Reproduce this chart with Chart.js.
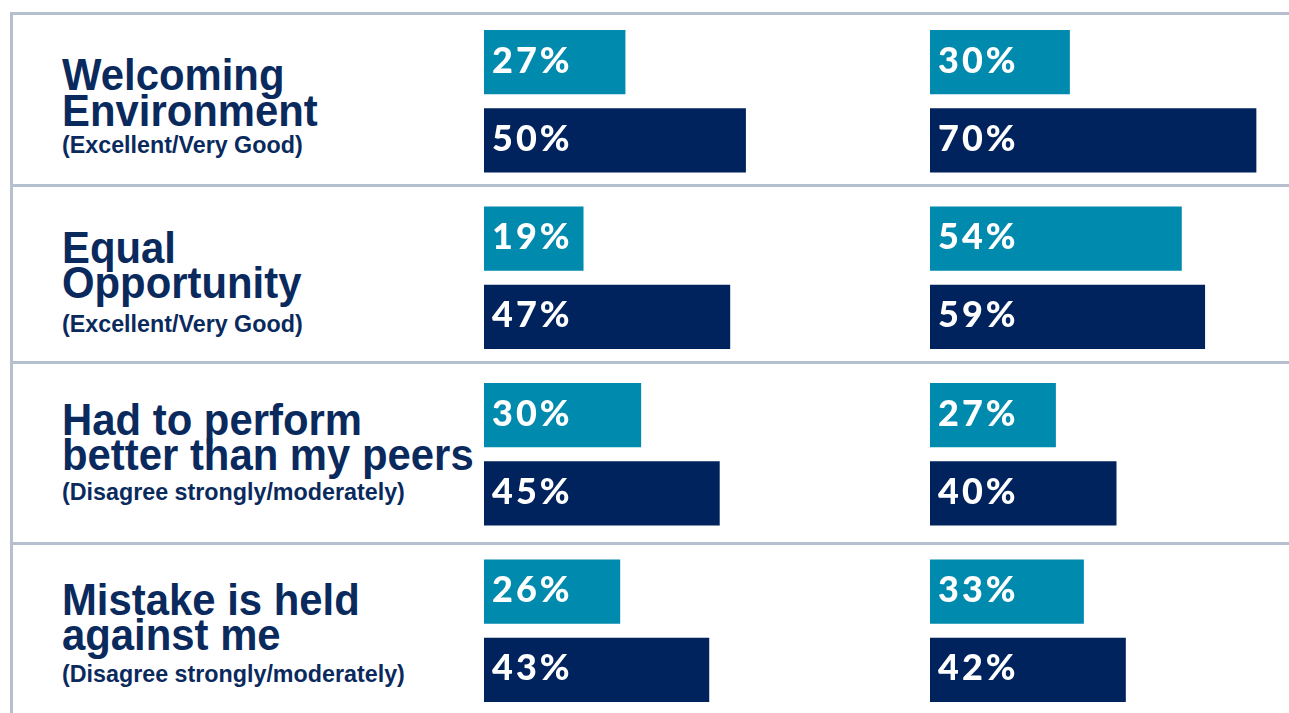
<!DOCTYPE html>
<html>
<head>
<meta charset="utf-8">
<script src="https://cdn.jsdelivr.net/npm/chart.js@4.4.0/dist/chart.umd.min.js"></script>
<style>
    html, body { margin: 0; padding: 0; background: #fff; overflow: hidden; }
    #page { position: relative; width: 1289px; height: 713px; }
    .rule { position: absolute; background: #b5bfce; }
    .lbl { position: absolute; left: 62px; white-space: nowrap; color: #0a2a5e; font-weight: bold;
           font-family: 'Liberation Sans', Arial, sans-serif; line-height: 1; transform-origin: 0 0; }
    .title { font-size: 45px; transform: scaleX(0.93); }
    .sub { font-size: 24px; transform: scaleX(0.97); }
    .chartBox { position: absolute; }
</style>
</head>
<body>
<div id="page">
    <div class="rule" style="left:10px;top:12px;width:1279px;height:3px"></div>
    <div class="rule" style="left:10px;top:12px;width:3px;height:701px"></div>
    <div class="rule" style="left:10px;top:184px;width:1279px;height:3px"></div>
    <div class="rule" style="left:10px;top:361px;width:1279px;height:3px"></div>
    <div class="rule" style="left:10px;top:542px;width:1279px;height:3px"></div>
    <div id="labels"></div>
    <div class="chartBox" style="left:484px;top:13px;width:440px;height:706px"><canvas id="leftChart"></canvas></div>
    <div class="chartBox" style="left:930px;top:13px;width:359px;height:706px"><canvas id="rightChart"></canvas></div>
</div>
<script>
// données
var categories = ['Welcoming Environment', 'Equal Opportunity', 'Had to perform better than my peers', 'Mistake is held against me'];
var titleLines = [['Welcoming', 'Environment'], ['Equal', 'Opportunity'], ['Had to perform', 'better than my peers'], ['Mistake is held', 'against me']];
var subTitles = ['(Excellent/Very Good)', '(Excellent/Very Good)', '(Disagree strongly/moderately)', '(Disagree strongly/moderately)'];

var leftLight = [27, 19, 30, 26];
var leftDark = [50, 47, 45, 43];
var rightLight = [30, 54, 27, 33];
var rightDark = [70, 59, 40, 42];

var TEAL = '#008aad';
var NAVY = '#00235e';

// baselines des lignes de texte (titre 1, titre 2, sous-titre)
var baselines = [[90, 126, 153], [263, 298, 332], [435, 470, 500], [615, 650, 682]];

function buildLabels()
{
    var holder = document.getElementById('labels');
    titleLines.forEach(function(lines, i) {
        lines.forEach(function(txt, j) {
            var d = document.createElement('div');
            d.className = 'lbl title';
            d.textContent = txt;
            d.style.top = (baselines[i][j] - 45 * 0.85) + 'px';
            holder.appendChild(d);
        });
        var s = document.createElement('div');
        s.className = 'lbl sub';
        s.textContent = subTitles[i];
        s.style.top = (baselines[i][2] - 24 * 0.85) + 'px';
        holder.appendChild(s);
    });
}

// écrit la valeur en blanc au début de chaque barre
var valueLabels = {
    id: 'valueLabels',
    afterDatasetsDraw: function(chart) {
        var ctx = chart.ctx;
        ctx.save();
        ctx.fillStyle = '#ffffff';
        ctx.font = '900 36px Lato';
        ctx.textBaseline = 'middle';
        ctx.textAlign = 'left';
        if ('letterSpacing' in ctx) ctx.letterSpacing = '3px';
        chart.data.datasets.forEach(function(ds, i) {
            chart.getDatasetMeta(i).data.forEach(function(bar, j) {
                ctx.fillText(ds.data[j] + '%', bar.base + 8, bar.y - 1);
            });
        });
        ctx.restore();
    }
};

function createChart(id, light, dark, maxVal)
{
    var ctx = document.getElementById(id).getContext('2d');
    return new Chart(ctx, {
        type: 'bar',
        data: {
            labels: categories,
            datasets: [
                { label: 'light', data: light, backgroundColor: TEAL, categoryPercentage: 0.886, barPercentage: 0.82 },
                { label: 'dark', data: dark, backgroundColor: NAVY, categoryPercentage: 0.886, barPercentage: 0.82 }
            ]
        },
        options: {
            indexAxis: 'y',
            responsive: true,
            maintainAspectRatio: false,
            animation: false,
            layout: { padding: 0 },
            plugins: { legend: { display: false }, tooltip: { enabled: false } },
            scales: {
                x: { display: false, min: 0, max: maxVal },
                y: { display: false }
            }
        },
        plugins: [valueLabels]
    });
}

buildLabels();
createChart('leftChart', leftLight, leftDark, 84);
createChart('rightChart', rightLight, rightDark, 77);
</script>
</body>
</html>
